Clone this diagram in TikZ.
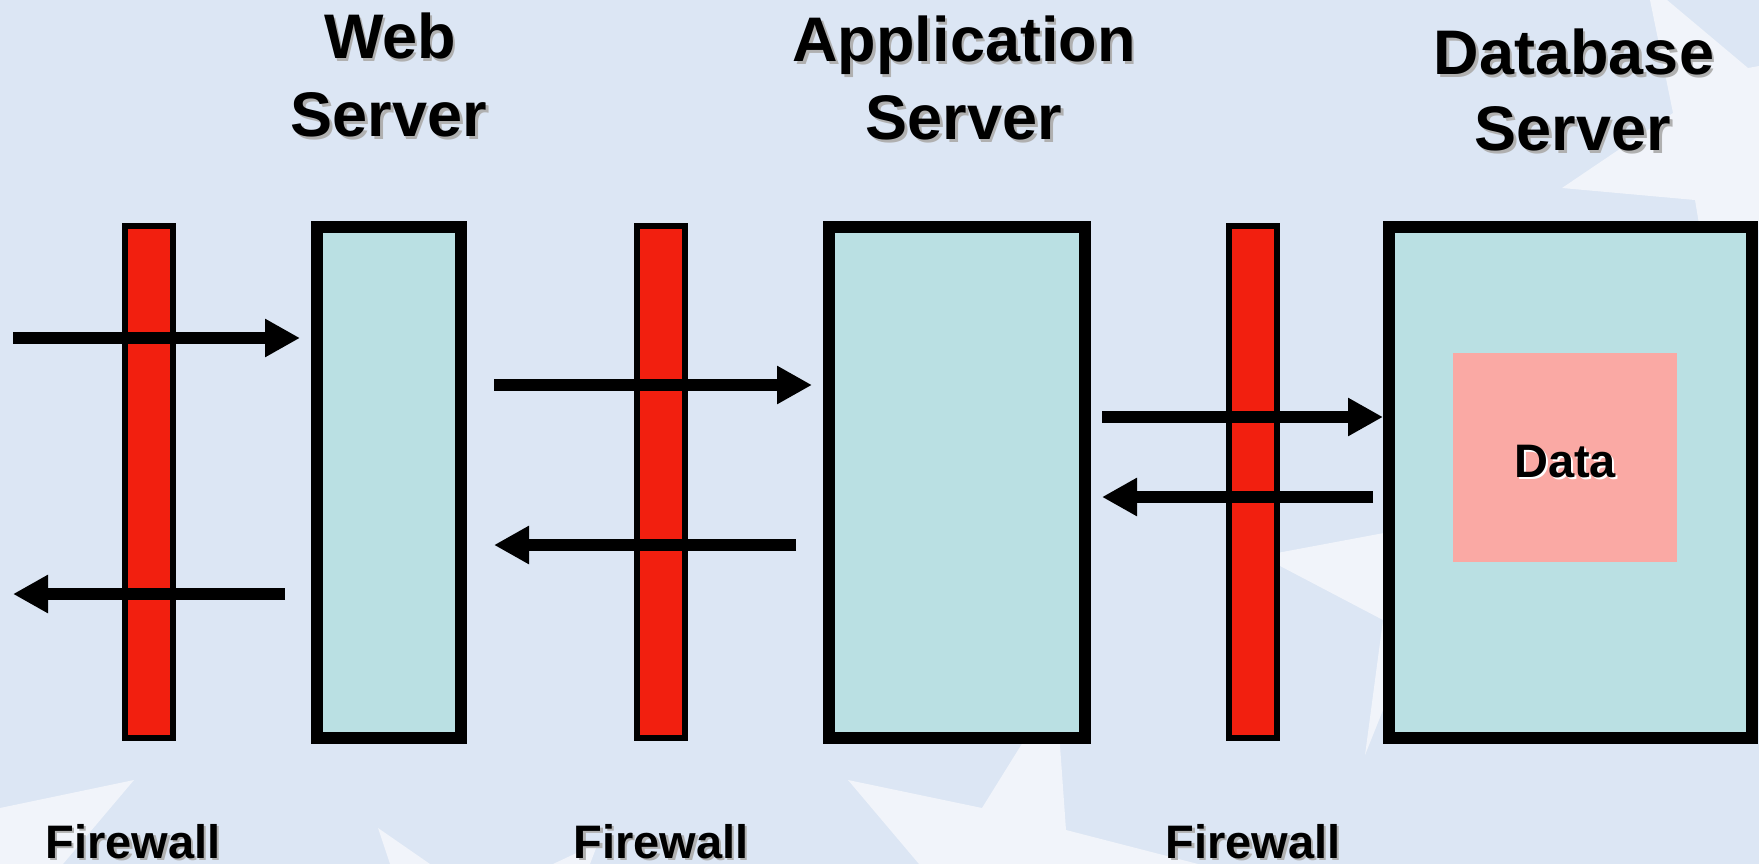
\documentclass[tikz,border=0pt]{standalone}
\usepackage{fontspec}
\setmainfont{Liberation Sans}
\usetikzlibrary{arrows.meta}
\definecolor{bgc}{HTML}{DCE6F4}
\definecolor{starc}{HTML}{F1F4FA}
\definecolor{fwred}{HTML}{F21F0F}
\definecolor{boxc}{HTML}{BAE0E3}
\definecolor{datac}{HTML}{FAA9A4}
\definecolor{shadc}{HTML}{B0B0B0}
\tikzset{
  fwbar/.style={draw=black, fill=fwred, line width=6pt, inner sep=0pt, minimum width=48pt, minimum height=512pt},
  srvbox/.style={draw=black, fill=boxc, line width=12pt, inner sep=0pt, minimum height=511pt},
  databox/.style={fill=datac, inner sep=0pt, minimum width=224pt, minimum height=209pt},
  hdr/.style={anchor=base, inner sep=0pt, font=\fontsize{63}{76}\selectfont\bfseries},
  fwlbl/.style={anchor=base, inner sep=0pt, font=\fontsize{47}{56}\selectfont\bfseries},
  datalbl/.style={anchor=base, inner sep=0pt, font=\fontsize{47}{56}\selectfont\bfseries},
  flow/.style={line width=12pt, -{Triangle[length=35pt, width=36pt]}},
}
\begin{document}
\begin{tikzpicture}[x=1pt, y=-1pt]
\useasboundingbox (0,0) rectangle (1759,864);
\fill[bgc] (0,0) rectangle (1759,864);
% background stars
\fill[starc] (1650,0) -- (1667,0) -- (1748,68) -- (1759,66) -- (1759,230) -- (1700,230) -- (1695,200) -- (1562,188) -- (1673,113) -- cycle;
\fill[starc] (1261,556) -- (1400,530) -- (1400,705) -- (1383,710) -- (1365,755) -- (1383,620) -- cycle;
\fill[starc] (848,780) -- (982,808) -- (1056,689) -- (1066,830) -- (1198,864) -- (919,864) -- cycle;
\fill[starc] (0,808) -- (134,780) -- (63,864) -- (0,864) -- cycle;
\fill[starc] (378,828) -- (390,864) -- (430,864) -- cycle;
\fill[starc] (553,864) -- (598,843) -- (590,864) -- cycle;

% firewalls
\node[fwbar] (fw1) at (149,482) {};
\node[fwbar] (fw2) at (661,482) {};
\node[fwbar] (fw3) at (1253,482) {};

% servers
\node[srvbox, minimum width=144pt] (web) at (389,482.5) {};
\node[srvbox, minimum width=256pt] (app) at (957,482.5) {};
\node[srvbox, minimum width=363pt] (db) at (1570.5,482.5) {};
\node[databox] (data) at (1565,457.5) {};

% arrow end points
\coordinate (a1s) at (13,338);   \coordinate (a1e) at (300,338);
\coordinate (a2s) at (494,385);  \coordinate (a2e) at (812,385);
\coordinate (a3s) at (796,545);  \coordinate (a3e) at (494,545);
\coordinate (a4s) at (285,594);  \coordinate (a4e) at (13,594);
\coordinate (a5s) at (1102,417); \coordinate (a5e) at (1383,417);
\coordinate (a6s) at (1373,497); \coordinate (a6e) at (1102,497);
\draw[flow] (a1s) -- (a1e);
\draw[flow] (a2s) -- (a2e);
\draw[flow] (a3s) -- (a3e);
\draw[flow] (a4s) -- (a4e);
\draw[flow] (a5s) -- (a5e);
\draw[flow] (a6s) -- (a6e);

% headers (shadow then text)
\node[hdr, text=shadc] (webs1) at (392.5,61.5) {Web};
\node[hdr] (web1) at (390,59) {Web};
\node[hdr, text=shadc] (webs2) at (391.5,139.5) {Server};
\node[hdr] (web2) at (389,137) {Server};
\node[hdr, text=shadc] (apps1) at (966.5,64.5) {Application};
\node[hdr] (app1) at (964,62) {Application};
\node[hdr, text=shadc] (apps2) at (966.5,142.5) {Server};
\node[hdr] (app2) at (964,140) {Server};
\node[hdr, text=shadc] (dbs1) at (1576.5,77.5) {Database};
\node[hdr] (db1) at (1574,75) {Database};
\node[hdr, text=shadc] (dbs2) at (1575.5,153.5) {Server};
\node[hdr] (db2) at (1573,151) {Server};

% data label
\node[datalbl, text=white] (datas) at (1567,479) {Data};
\node[datalbl] (datat) at (1565,477) {Data};

% firewall labels
\node[fwlbl, text=shadc] (fwl1s) at (135.5,860.5) {Firewall};
\node[fwlbl] (fwl1) at (133,858) {Firewall};
\node[fwlbl, text=shadc] (fwl2s) at (663.5,860.5) {Firewall};
\node[fwlbl] (fwl2) at (661,858) {Firewall};
\node[fwlbl, text=shadc] (fwl3s) at (1255.5,860.5) {Firewall};
\node[fwlbl] (fwl3) at (1253,858) {Firewall};
\end{tikzpicture}
\end{document}
